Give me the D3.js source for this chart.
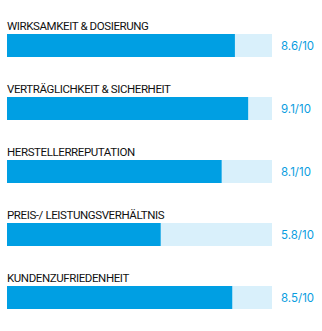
<!DOCTYPE html>
<html>
<head>
<meta charset="utf-8">
<script src="https://cdn.jsdelivr.net/npm/d3@7"></script>
<style>
  body { margin: 0; background: #fff; }
  svg { display: block; font-family: "Inter", "Roboto", sans-serif; }
</style>
</head>
<body>
<div id="chart"></div>
<script>
const categories = ["WIRKSAMKEIT & DOSIERUNG", "VERTRÄGLICHKEIT & SICHERHEIT", "HERSTELLERREPUTATION", "PREIS-/ LEISTUNGSVERHÄLTNIS", "KUNDENZUFRIEDENHEIT"]
const scores = [8.6, 9.1, 8.1, 5.8, 8.5]
const maxScore = 10

const width = 322
const height = 331
const barLeft = 7
const barRight = 272
const barHeight = 23

const svg = d3.select("#chart").append("svg")
    .attr("width", width)
    .attr("height", height)

const x = d3.scaleLinear().domain([0, maxScore]).range([barLeft, barRight])
const y = d3.scalePoint().domain(categories).range([34, 286])

const data = categories.map((c, i) => ({ name: c, score: scores[i] }))

const rows = svg.selectAll("g.row")
    .data(data)
    .join("g")
    .attr("class", "row")
    .attr("transform", (d) => `translate(0,${y(d.name)})`)

// track
rows.append("rect")
    .attr("x", x(0))
    .attr("y", 0)
    .attr("width", x(maxScore) - x(0))
    .attr("height", barHeight)
    .attr("fill", "#d9f0fb")

// filled part
rows.append("rect")
    .attr("x", x(0))
    .attr("y", 0)
    .attr("width", (d) => x(d.score) - x(0))
    .attr("height", barHeight)
    .attr("fill", "#009fe3")

rows.append("text")
    .attr("x", barLeft)
    .attr("y", -4)
    .attr("font-family", "Roboto, sans-serif")
    .attr("font-size", 11.5)
    .attr("letter-spacing", -0.4)
    .attr("fill", "#111")
    .text((d) => d.name)

rows.append("text")
    .attr("x", 281)
    .attr("y", barHeight / 2 + 4)
    .attr("font-size", 11.5)
    .attr("fill", "#0a9de0")
    .text((d) => `${d.score}/${maxScore}`)
</script>
</body>
</html>
